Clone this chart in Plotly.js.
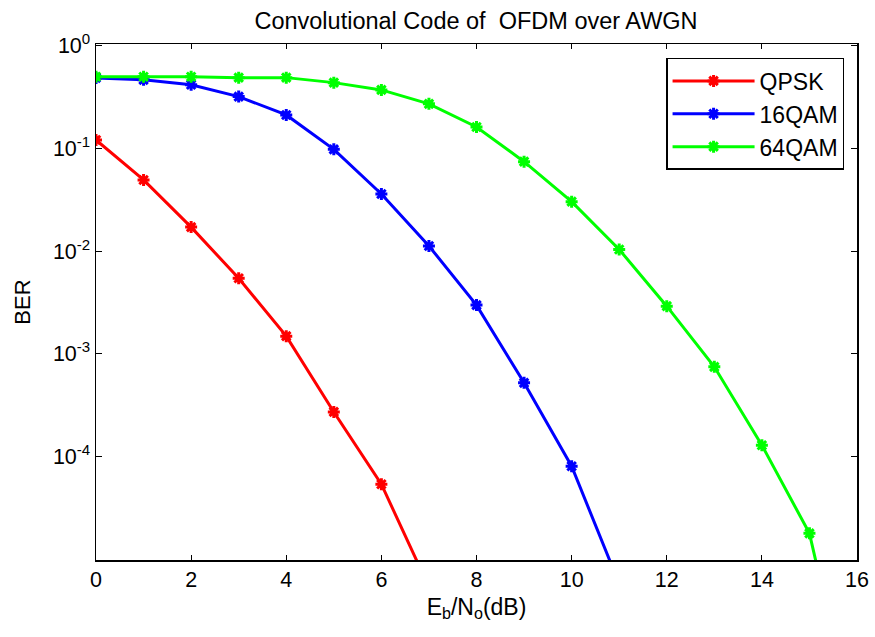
<!DOCTYPE html>
<html>
<head>
<meta charset="utf-8">
<script src="https://cdn.plot.ly/plotly-3.0.1.min.js"></script>
<style>html,body{margin:0;padding:0;background:#fff;}#chart{width:875px;height:637px;}</style>
</head>
<body>
<div id="chart"></div>
<script>
const ebno = [0,1,2,3,4,5,6,7,8,9,10,11,12,13,14,15,16];
const qpskX = [0,1,2,3,4,5,6,7];
const qpskBER = [0.121,0.0493,0.0171,0.00542,0.00148,2.70e-4,5.33e-5,5.3e-6];
const qam16X = [0,1,2,3,4,5,6,7,8,9,10,11];
const qam16BER = [0.487,0.466,0.417,0.32,0.212,0.098,0.036,0.0112,0.00297,5.19e-4,7.98e-5,5.7e-6];
const qam64X = ebno;
const qam64BER = [0.50,0.50,0.50,0.49,0.49,0.438,0.372,0.272,0.162,0.0743,0.0303,0.01035,0.0029,7.43e-4,1.28e-4,1.77e-5,1.7e-7];
const seriesNames = ['QPSK','16QAM','64QAM'];
const seriesColors = ['#FF0000','#0000FF','#00FF00'];
const xTicks = [0,2,4,6,8,10,12,14,16];
const yMajor = [1,0.1,0.01,0.001,0.0001];
const yMajorText = ['10<sup>0</sup>','10<sup>-1</sup>','10<sup>-2</sup>','10<sup>-3</sup>','10<sup>-4</sup>'];
const yMinor = [];
for (let e = -5; e < 0; e++) for (let m = 2; m <= 9; m++) yMinor.push(m * Math.pow(10, e));

const xs = [qpskX, qam16X, qam64X];
const ys = [qpskBER, qam16BER, qam64BER];
const traces = seriesNames.map((n, i) => ({
  x: xs[i], y: ys[i], name: n, type: 'scatter', mode: 'lines+markers',
  line: {color: seriesColors[i], width: 3},
  marker: {symbol: 'asterisk-open', size: 10, color: seriesColors[i], line: {color: seriesColors[i], width: 3}}
}));

const fam = 'Liberation Sans, Arial, sans-serif';
const f = s => ({family: fam, size: s, color: '#000'});
const layout = {
  width: 875, height: 637,
  margin: {l: 96, r: 18, t: 44, b: 77},
  paper_bgcolor: '#fff', plot_bgcolor: '#fff',
  font: f(21),
  title: {text: 'Convolutional Code of  OFDM over AWGN', x: 0.544, xanchor: 'center', y: 0.968, yanchor: 'middle', font: f(23.5)},
  xaxis: {
    range: [0, 16], tickvals: xTicks, ticks: 'inside', ticklen: 5, tickwidth: 1, tickcolor: '#000',
    showline: true, linecolor: '#000', linewidth: 1.5, mirror: 'allticks', showgrid: false, zeroline: false,
    tickfont: f(21.5),
    title: {text: 'E<sub>b</sub>/N<sub>o</sub>(dB)', font: f(23), standoff: 7}
  },
  yaxis: {
    type: 'log', range: [-5.012, 0.018], tickvals: yMajor, ticktext: yMajorText,
    ticks: 'inside', ticklen: 6, tickwidth: 1, tickcolor: '#000',
    showline: true, linecolor: '#000', linewidth: 1.5, mirror: 'allticks', showgrid: false, zeroline: false,
    tickfont: f(21.5),
    title: {text: 'BER', font: f(22), standoff: 16}
  },
  yaxis2: {
    type: 'log', range: [-5.012, 0.018], overlaying: 'y', side: 'left', tickvals: yMinor,
    ticks: 'inside', ticklen: 3, tickwidth: 1, tickcolor: '#000', showticklabels: false,
    showline: true, linecolor: '#000', linewidth: 1.5, mirror: 'allticks', showgrid: false, zeroline: false
  },
  legend: {
    x: 0.983, xanchor: 'right', y: 0.973, yanchor: 'top',
    bgcolor: '#fff', bordercolor: '#000', borderwidth: 1.5,
    font: f(23), itemwidth: 82
  },
  showlegend: true
};
Plotly.newPlot('chart', traces, layout, {displayModeBar: false, staticPlot: true});
</script>
</body>
</html>
